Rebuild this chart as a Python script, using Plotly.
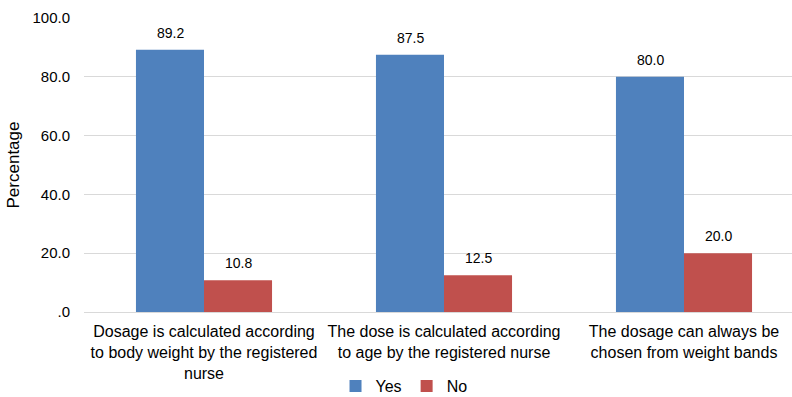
import plotly.graph_objects as go

categories = [
    "Dosage is calculated according<br>to body weight by the registered<br>nurse",
    "The dose is calculated according<br>to age by the registered nurse",
    "The dosage can always be<br>chosen from weight bands",
]
yes_values = [89.2, 87.5, 80.0]
no_values = [10.8, 12.5, 20.0]
tick_vals = [0, 20, 40, 60, 80, 100]
tick_text = [".0", "20.0", "40.0", "60.0", "80.0", "100.0"]

fig = go.Figure()
fig.add_trace(go.Bar(name="Yes", x=categories, y=yes_values, marker_color="#4F81BD",
                     marker_line_width=0))
fig.add_trace(go.Bar(name="No", x=categories, y=no_values, marker_color="#C0504D",
                     marker_line_width=0))

for vals, shift in ((yes_values, -34), (no_values, 34)):
    for c, v in zip(categories, vals):
        fig.add_annotation(x=c, y=v, xref="x", yref="y", text=f"{v:.1f}", showarrow=False,
                           xshift=shift, yshift=17, font=dict(family="Liberation Sans", size=14, color="#000"))

fig.update_layout(
    width=792, height=397,
    margin=dict(l=84, r=0, t=18, b=85, autoexpand=False),
    barmode="group", bargap=0.433, bargroupgap=0,
    plot_bgcolor="white", paper_bgcolor="white",
    font=dict(family="Liberation Sans", size=16, color="#000"),
    legend=dict(orientation="h", x=0.452, xanchor="center", y=-0.31, yanchor="bottom",
                font=dict(size=16), itemwidth=30, traceorder="normal"),
    yaxis=dict(range=[0, 100], tickvals=tick_vals, ticktext=tick_text, showgrid=True,
               gridcolor="#D9D9D9", zeroline=False, showline=False, ticks="",
               tickfont=dict(size=15), ticklabelstandoff=13, automargin=False,
               title=dict(text="Percentage", font=dict(size=17), standoff=8)),
    xaxis=dict(range=[-0.5, 2.45], showline=True, linecolor="#D9D9D9", ticks="",
               tickfont=dict(size=16), ticklabelstandoff=5, automargin=False),
)

fig.write_html("out.html")
